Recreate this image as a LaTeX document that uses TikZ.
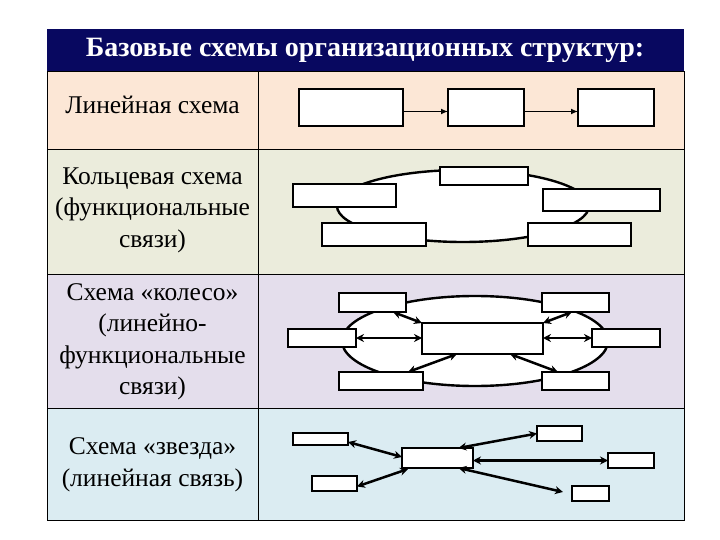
\documentclass[tikz,border=0pt]{standalone}
\usepackage{fontspec}
\setmainfont{Liberation Serif}
\usetikzlibrary{arrows.meta,calc}
\definecolor{navy}{RGB}{8,8,96}
\definecolor{rowA}{RGB}{252,231,214}
\definecolor{rowB}{RGB}{235,236,220}
\definecolor{rowC}{RGB}{228,222,236}
\definecolor{rowD}{RGB}{219,236,242}
\begin{document}
\begin{tikzpicture}[x=1pt,y=-1pt,
  box/.style={draw=black, fill=white, line width=1.9pt, inner sep=0pt, outer sep=0pt},
  ring/.style={draw=black, fill=white, line width=2.4pt},
  one/.style={line width=1.8pt, -{Latex[length=7pt,width=6pt]}},
  dbl/.style={line width=2.5pt, {Stealth[length=8pt,width=8pt]}-{Stealth[length=8pt,width=8pt]}},
  lbl/.style={align=center, font=\fontsize{25.5}{31.5}\selectfont, inner sep=0pt},
  grid/.style={draw=black, line width=1pt}]
\useasboundingbox (0,0) rectangle (720,540);
\fill[white] (0,0) rectangle (720,540);
% table background
\fill[navy] (47,29) rectangle (684,72);
\fill[rowA] (47,72) rectangle (684,150);
\fill[rowB] (47,150) rectangle (684,274);
\fill[rowC] (47,274) rectangle (684,408);
\fill[rowD] (47,408) rectangle (684,520);
\draw[grid] (47,72) rectangle (684,520);
\draw[grid] (47,150) -- (684,150);
\draw[grid] (47,274) -- (684,274);
\draw[grid] (47,408) -- (684,408);
\draw[grid] (258,72) -- (258,520);
\node[font=\bfseries\fontsize{28}{34}\selectfont, text=white, inner sep=0pt] (title) at (365,50) {Базовые схемы организационных структур:};
% left labels
\node[lbl] (t1) at (152.5,105) {Линейная схема};
\node[lbl] (t2) at (152.5,210) {Кольцевая схема\\(функциональные\\связи)};
\node[lbl] (t3) at (152.5,342) {Схема «колесо»\\(линейно-\\функциональные\\связи)};
\node[lbl] (t4) at (152.5,465) {Схема «звезда»\\(линейная связь)};
% row 1: linear
\node[box, minimum width=104, minimum height=37] (l1) at (351,107.5) {};
\node[box, minimum width=76, minimum height=37] (l2) at (486,107.5) {};
\node[box, minimum width=76, minimum height=37] (l3) at (616,107.5) {};
\draw[one] ($(l1.east)+(0,4)$) -- ($(l2.west)+(0,4)$);
\draw[one] ($(l2.east)+(0,4)$) -- ($(l3.west)+(0,4)$);
% row 2: ring
\draw[ring] (463,206) ellipse [x radius=126, y radius=36];
\node[box, minimum width=88, minimum height=18] (rt) at (484,176) {};
\node[box, minimum width=103, minimum height=23] (rl) at (344.5,195.5) {};
\node[box, minimum width=117, minimum height=22] (rr) at (601.5,200) {};
\node[box, minimum width=104, minimum height=23] (rbl) at (374,234.5) {};
\node[box, minimum width=103, minimum height=23] (rbr) at (579.5,234.5) {};
% row 3: wheel
\draw[ring] (475,341) ellipse [x radius=133, y radius=45];
\node[box, minimum width=67, minimum height=19] (wtl) at (372.5,302.5) {};
\node[box, minimum width=67, minimum height=19] (wtr) at (575.5,302.5) {};
\node[box, minimum width=68, minimum height=18] (wl) at (322,338) {};
\node[box, minimum width=121, minimum height=31] (wc) at (482.5,338.5) {};
\node[box, minimum width=68, minimum height=18] (wr) at (626,338) {};
\node[box, minimum width=84, minimum height=18] (wbl) at (381,381) {};
\node[box, minimum width=67, minimum height=18] (wbr) at (575.5,381) {};
\draw[dbl] ($(wtl.south east)+(-13,0)$) -- (wc.north west);
\draw[dbl] (wl.east) -- (wc.west |- wl.east);
\draw[dbl] ($(wbl.north east)+(-15,0)$) -- ($(wc.south west)+(35,0)$);
\draw[dbl] ($(wtr.south west)+(30,0)$) -- (wc.north east);
\draw[dbl] (wr.west) -- (wc.east |- wr.west);
\draw[dbl] ($(wbr.north west)+(16,0)$) -- ($(wc.south east)+(-33,0)$);
% row 4: star
\node[box, minimum width=55, minimum height=12] (sa) at (320.5,439) {};
\node[box, minimum width=45, minimum height=15] (sb) at (334.5,483.5) {};
\node[box, minimum width=71, minimum height=20] (sc) at (437.5,458) {};
\node[box, minimum width=45, minimum height=15] (str) at (559.5,433.5) {};
\node[box, minimum width=46, minimum height=15] (sr) at (631,460.5) {};
\node[box, minimum width=37, minimum height=15] (sbr) at (590.5,493.5) {};
\coordinate (send) at (563,492);
\draw[dbl] ($(sa.east)+(0,3)$) -- ($(sc.west)+(0,-1)$);
\draw[dbl] ($(sb.east)+(0,3)$) -- ($(sc.south west)+(6,1)$);
\draw[dbl] ($(sc.north)+(21,0)$) -- (str.west);
\draw[dbl] (sc.east |- sr.west) -- (sr.west);
\draw[dbl] ($(sc.south)+(21,0)$) -- (send);
\end{tikzpicture}
\end{document}
